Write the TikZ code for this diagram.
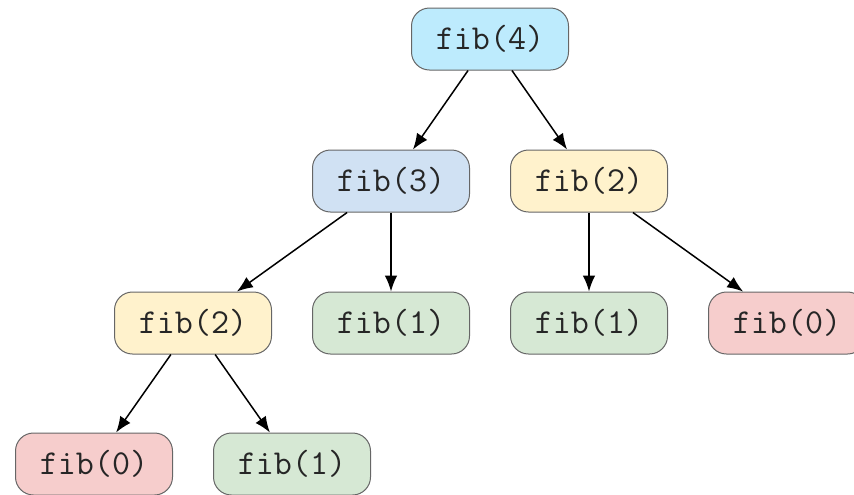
\documentclass[tikz,border=0pt]{standalone}
\usepackage{fontspec}
\usetikzlibrary{arrows.meta,positioning}
\definecolor{callCyan}{RGB}{189,235,253}
\definecolor{callBlue}{RGB}{208,225,243}
\definecolor{callYellow}{RGB}{255,242,204}
\definecolor{callGreen}{RGB}{214,232,212}
\definecolor{callRed}{RGB}{246,205,204}
\tikzset{%
    >={Latex[width=2.2mm,length=2.8mm]},
    base/.style = {
        rectangle, rounded corners=9pt, draw=black!60, line width=0.5pt,
        minimum width=78.5pt, minimum height=31pt, text centered,
        text=black!85, font=\ttfamily\fontsize{17.5}{20}\selectfont
    },
    fibFour/.style = {base, fill=callCyan},
    fibThree/.style = {base, fill=callBlue},
    fibTwo/.style = {base, fill=callYellow},
    fibOne/.style = {base, fill=callGreen},
    fibZero/.style = {base, fill=callRed},
    call/.style = {->, line width=0.75pt},
}

\begin{document}
\begin{tikzpicture}[node distance=71pt]
        \useasboundingbox (0,0) rectangle (427pt,-247pt);

        % Nodes position
        \node (root)     [fibFour] at (245pt,-19.5pt) {fib(4)};
        \node (three)    [fibThree, below of=root, xshift=-49.5pt] {fib(3)};
        \node (twoR)     [fibTwo, below of=root, xshift=49.5pt]    {fib(2)};
        \node (twoL)     [fibTwo, below of=three, xshift=-99pt]    {fib(2)};
        \node (oneA)     [fibOne, below of=three]                  {fib(1)};
        \node (oneB)     [fibOne, below of=twoR]                   {fib(1)};
        \node (zeroA)    [fibZero, below of=twoR, xshift=99pt]     {fib(0)};
        \node (zeroB)    [fibZero, below of=twoL, xshift=-49.5pt, yshift=0.5pt] {fib(0)};
        \node (oneC)     [fibOne, below of=twoL, xshift=49.5pt, yshift=0.5pt]   {fib(1)};

        % Arrow specification
        \draw[call]  (root) -- (three);
        \draw[call]  (root) -- (twoR);
        \draw[call] (three) -- (twoL);
        \draw[call] (three) -- (oneA);
        \draw[call]  (twoR) -- (oneB);
        \draw[call]  (twoR) -- (zeroA);
        \draw[call]  (twoL) -- (zeroB);
        \draw[call]  (twoL) -- (oneC);
    \end{tikzpicture}
\end{document}
